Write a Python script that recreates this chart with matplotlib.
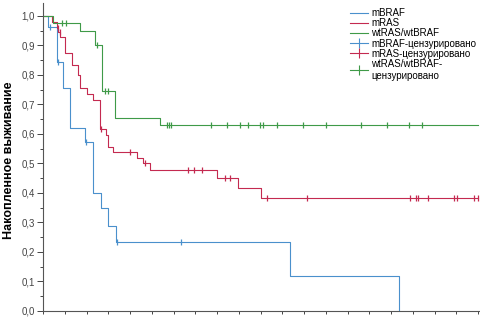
import numpy as np
import matplotlib
matplotlib.use("Agg")
import matplotlib.pyplot as plt
from matplotlib.lines import Line2D
from matplotlib.ticker import MultipleLocator, FuncFormatter

plt.rcParams["font.family"] = ["Liberation Sans", "DejaVu Sans"]

# ── Data (x in tick units) ───────────────────────────────────────────────────
braf_t = [0.0, 0.23, 0.64, 0.92, 1.24, 1.93, 2.30, 2.67, 2.99, 3.36, 11.36, 16.37]
braf_s = [1.0, 0.963, 0.845, 0.755, 0.62, 0.573, 0.40, 0.348, 0.287, 0.233, 0.118, 0.0]
braf_end = 16.37
braf_cens = [0.32, 0.69, 1.98, 3.40, 6.34]

ras_t = [0.0, 0.41, 0.64, 0.71, 0.78, 1.01, 1.33, 1.61, 1.70, 2.02, 2.30, 2.62,
         2.90, 2.99, 3.22, 4.32, 4.60, 4.92, 8.0, 8.97, 10.02]
ras_s = [1.0, 0.98, 0.96, 0.945, 0.93, 0.874, 0.834, 0.80, 0.755, 0.735, 0.715,
         0.617, 0.597, 0.556, 0.54, 0.52, 0.50, 0.478, 0.45, 0.417, 0.383]
ras_end = 20.0
ras_cens = [0.69, 0.76, 2.67, 4.0, 4.69, 6.67, 6.94, 7.31, 8.37, 8.60, 10.30,
            12.14, 16.87, 17.15, 17.24, 17.70, 18.90, 19.03, 19.82, 20.0]

wt_t = [0.0, 0.46, 1.70, 2.39, 2.70, 3.31, 5.38]
wt_s = [1.0, 0.975, 0.95, 0.90, 0.745, 0.655, 0.63]
wt_end = 20.0
wt_cens = [0.87, 1.06, 2.48, 2.85, 2.99, 5.70, 5.79, 5.89, 7.72, 8.46, 9.06,
           9.43, 9.98, 10.11, 10.76, 11.95, 13.01, 14.62, 15.82, 16.83, 17.43]

labels = ["mBRAF", "mRAS", "wtRAS/wtBRAF", "mBRAF-цензурировано",
          "mRAS-цензурировано", "wtRAS/wtBRAF-\nцензурировано"]
C_BLUE = "#4a90cc"
C_RED = "#c42a50"
C_GREEN = "#3f9a48"

# ── Figure ───────────────────────────────────────────────────────────────────
fig = plt.figure(figsize=(4.81, 3.17), dpi=100)
ax = fig.add_axes([43 / 481, 6 / 317, 438 / 481, 308 / 317])


def km(t, s, end, cens, color):
    x = list(t) + [end]
    y = list(s) + [s[-1]]
    ax.plot(x, y, drawstyle="steps-post", color=color, lw=0.8)
    idx = np.searchsorted(t, cens, side="right") - 1
    cy = np.array(s)[idx]
    ax.plot(cens, cy, ls="none", marker="|", ms=5, mew=0.9, color=color)


km(braf_t, braf_s, braf_end, braf_cens, C_BLUE)
km(ras_t, ras_s, ras_end, ras_cens, C_RED)
km(wt_t, wt_s, wt_end, wt_cens, C_GREEN)

ax.set_xlim(0, 438 / 21.75)
ax.set_ylim(0, 1.044)
ax.spines["top"].set_visible(False)
ax.spines["right"].set_visible(False)
for sp in ("left", "bottom"):
    ax.spines[sp].set_color("#555555")
    ax.spines[sp].set_linewidth(0.8)

ax.yaxis.set_major_locator(MultipleLocator(0.1))
ax.yaxis.set_minor_locator(MultipleLocator(0.05))
ax.yaxis.set_major_formatter(FuncFormatter(lambda v, p: f"{v:.1f}".replace(".", ",")))
ax.xaxis.set_major_locator(MultipleLocator(1))
ax.set_xticklabels([])
ax.tick_params(axis="y", which="major", length=4, width=0.7, labelsize=7,
               colors="#444444", pad=2)
ax.tick_params(axis="y", which="minor", length=2, width=0.7, colors="#444444")
ax.tick_params(axis="x", which="major", length=2.5, width=0.7, colors="#444444")

fig.text(9 / 481, 1 - 160 / 317, "Накопленное выживание", rotation=90,
         fontsize=9, fontweight="bold", ha="center", va="center")

handles = [
    Line2D([], [], color=C_BLUE, lw=0.8),
    Line2D([], [], color=C_RED, lw=0.8),
    Line2D([], [], color=C_GREEN, lw=0.8),
    Line2D([], [], color=C_BLUE, lw=0.8, marker="|", ms=7, mew=0.8),
    Line2D([], [], color=C_RED, lw=0.8, marker="|", ms=7, mew=0.8),
    Line2D([], [], color=C_GREEN, lw=0.8, marker="|", ms=7, mew=0.8),
]
fig.legend(handles, labels, loc="upper left", bbox_to_anchor=(350 / 481, 1 - 8 / 317),
           frameon=False, fontsize=7, handlelength=1.9, handletextpad=0.3,
           labelspacing=0.02, borderaxespad=0, borderpad=0)

fig.savefig("out.png", dpi=100)
